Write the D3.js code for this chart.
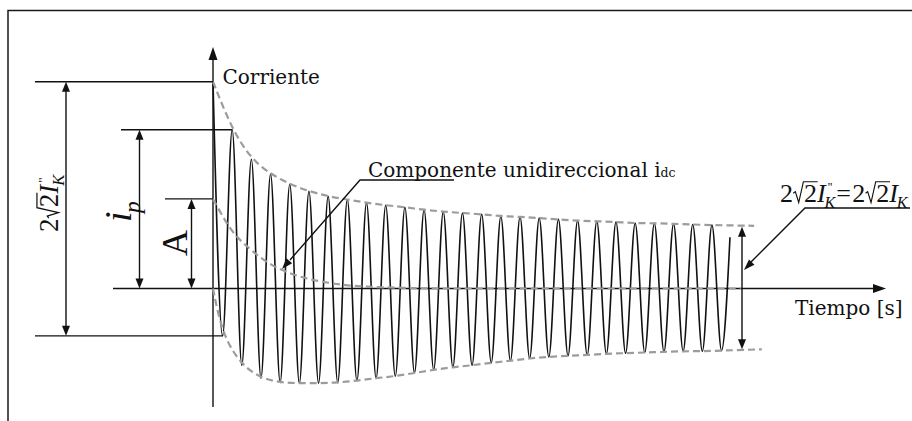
<!DOCTYPE html>
<html>
<head>
<meta charset="utf-8">
<script src="https://cdn.jsdelivr.net/npm/d3@7"></script>
<style>
  html, body { margin: 0; padding: 0; background: #fff; }
  svg { display: block; }
  .txt { font-family: "DejaVu Serif", serif; fill: #111; }
  .math { font-family: "Liberation Serif", "Times New Roman", serif; fill: #111; }
</style>
</head>
<body>
<div id="chart"></div>
<script>
// Short-circuit current far from generator: asymmetric decaying waveform,
// its envelopes and the unidirectional (DC) component.

// Time in cycles of the fundamental, current in multiples of the steady-state peak.
const peakTimes = d3.range(27);                 // crest k at t = k
const peakValues = [3.23, 2.48, 2.02, 1.79, 1.63, 1.52, 1.44, 1.39, 1.34, 1.30,
                    1.27, 1.23, 1.20, 1.18, 1.16, 1.13, 1.12, 1.10, 1.08, 1.06,
                    1.05, 1.04, 1.02, 1.02, 1.01, 1.00, 0.99];
const troughValues = [-0.74, -1.20, -1.40, -1.47, -1.48, -1.48, -1.47, -1.44, -1.40, -1.37,
                      -1.32, -1.27, -1.23, -1.20, -1.16, -1.13, -1.09, -1.07, -1.05, -1.04,
                      -1.02, -1.01, -1.00, -0.99, -0.98, -0.98, -0.97];   // trough k at t = k + 0.5
const waveEnd = { t: 26.94, v: 0.80 };

const upperEnvTail = { t: 28.2, v: 0.98 };
const lowerEnvHead = { t: 0, v: 0 };
const lowerEnvTail = { t: 28.6, v: -0.95 };

const dcTimes  = [0, 1, 2, 3, 4, 5, 6, 7, 8, 10, 12, 27.5];
const dcValues = [1.40, 0.90, 0.60, 0.38, 0.24, 0.15, 0.09, 0.05, 0.03, 0.01, 0, 0];

const labelCurrent = "Corriente";
const labelTime = "Tiempo [s]";
const labelDC = "Componente unidireccional i";
const labelDCSub = "dc";

const W = 912, H = 421;
const svg = d3.select("#chart").append("svg").attr("width", W).attr("height", H);

const x = d3.scaleLinear().domain([0, 27]).range([213, 213 + 27 * 19.19]);
const y = d3.scaleLinear().domain([0, 1]).range([288.5, 224.5]);

const ink = "#111";
const dashGrey = "#9c9c9c";

// outer frame
svg.append("rect").attr("x", 8).attr("y", 10.5).attr("width", W).attr("height", H)
  .attr("fill", "none").attr("stroke", "#1a1a1a").attr("stroke-width", 1.5);

function arrowHead(tx, ty, ang, len = 10, half = 3.6) {
  const c = Math.cos(ang), s = Math.sin(ang);
  const bx = tx - c * len, by = ty - s * len;
  const pts = [[tx, ty], [bx - s * half, by + c * half], [bx + s * half, by - c * half]];
  svg.append("path").attr("d", "M" + pts.map(p => p.join(",")).join("L") + "Z").attr("fill", ink);
}
function seg(x1, y1, x2, y2, w = 1.4) {
  svg.append("line").attr("x1", x1).attr("y1", y1).attr("x2", x2).attr("y2", y2)
    .attr("stroke", ink).attr("stroke-width", w);
}
function dimArrow(xp, yA, yB) {
  seg(xp, yA + 8, xp, yB - 8);
  arrowHead(xp, yA, -Math.PI / 2, 10, 4);
  arrowHead(xp, yB, Math.PI / 2, 10, 4);
}

// axes
const y0 = y(0), x0 = x(0);
seg(113, y0, 875, y0);
arrowHead(886, y0, 0, 13, 4.5);
seg(x0, 407, x0, 58);
arrowHead(x0, 47, -Math.PI / 2, 13, 4.5);

// waveform through crests and troughs
const wavePts = [];
peakTimes.forEach((t, i) => {
  wavePts.push([t, peakValues[i]]);
  wavePts.push([t + 0.5, troughValues[i]]);
});
wavePts.push([waveEnd.t, waveEnd.v]);
const line = d3.line().x(d => x(d[0])).y(d => y(d[1])).curve(d3.curveMonotoneX);
svg.append("path").attr("d", line(wavePts)).attr("fill", "none")
  .attr("stroke", ink).attr("stroke-width", 1.6).attr("stroke-linejoin", "round");

// envelopes and DC component
const upperPts = peakTimes.map((t, i) => [t, peakValues[i]]).concat([[upperEnvTail.t, upperEnvTail.v]]);
const lowerPts = [[lowerEnvHead.t, lowerEnvHead.v]]
  .concat(peakTimes.map((t, i) => [t + 0.5, troughValues[i]]))
  .concat([[lowerEnvTail.t, lowerEnvTail.v]]);
const dcPts = dcTimes.map((t, i) => [t, dcValues[i]]);
const envLine = d3.line().x(d => x(d[0])).y(d => y(d[1])).curve(d3.curveBasis);
[upperPts, lowerPts, dcPts].forEach(pts => {
  svg.append("path").attr("d", (pts === dcPts ? line : envLine)(pts)).attr("fill", "none")
    .attr("stroke", dashGrey).attr("stroke-width", 2.2).attr("stroke-dasharray", "7,4");
});

// reference levels and dimension arrows
const yPeak0 = y(peakValues[0]), yTr0 = y(troughValues[0]);
const yIp = y(peakValues[1]), yA = y(dcValues[0]);
seg(35, yPeak0, x0, yPeak0);
seg(35, yTr0, x(0.5), yTr0);
seg(121, yIp, x(1), yIp);
seg(165, yA, x0, yA);
dimArrow(66, yPeak0, yTr0);
dimArrow(139.5, yIp, y0);
dimArrow(191.5, yA, y0);
dimArrow(742, y(upperEnvTail.v) + 1, y(lowerEnvTail.v));

// leader for the DC label
svg.append("path").attr("d", "M454,180H360L290,260").attr("fill", "none")
  .attr("stroke", ink).attr("stroke-width", 1.4);
arrowHead(282, 269, Math.atan2(269 - 180, 282 - 360), 11, 3.8);
// leader for the steady-state label
svg.append("path").attr("d", "M910,208H805L751,262").attr("fill", "none")
  .attr("stroke", ink).attr("stroke-width", 1.4);
arrowHead(744, 270, Math.atan2(270 - 208, 744 - 805), 11, 3.8);

// plain text labels
svg.append("text").attr("class", "txt").attr("x", 222.5).attr("y", 83.5)
  .style("font-size", "20px").text(labelCurrent);
svg.append("text").attr("class", "txt").attr("x", 795).attr("y", 315)
  .style("font-size", "20px").text(labelTime);
const tdc = svg.append("text").attr("class", "txt").attr("x", 368).attr("y", 177)
  .style("font-size", "20px").text(labelDC);
tdc.append("tspan").style("font-size", "12.5px").text(labelDCSub);

// small math typesetter: items laid out left to right on a baseline
function mathLabel(g, items, fs) {
  let cx = 0;
  const put = (s, size, italic, dx, dy) => {
    const t = g.append("text").attr("class", "math").attr("x", cx + dx).attr("y", dy)
      .style("font-size", size + "px").style("font-style", italic ? "italic" : "normal").text(s);
    return t.node().getComputedTextLength();
  };
  items.forEach(it => {
    if (it.sqrt) {
      const r0 = cx;
      const wRad = 0.42 * fs;
      cx += wRad;
      const w = put(it.sqrt, fs, false, 0, 0);
      const top = -0.78 * fs;
      g.append("path")
        .attr("d", `M${r0 + 0.01 * fs},${-0.34 * fs}L${r0 + 0.09 * fs},${-0.40 * fs}L${r0 + 0.22 * fs},${0.02 * fs}` +
                   `L${r0 + 0.40 * fs},${top}H${cx + w + 0.03 * fs}`)
        .attr("fill", "none").attr("stroke", ink).attr("stroke-width", 0.045 * fs)
        .attr("stroke-linejoin", "miter");
      cx += w;
    } else if (it.supsub) {
      let w1 = 0, w2 = 0;
      if (it.sup) w1 = put(it.sup, fs * 0.5, false, 0.08 * fs, -0.42 * fs);
      if (it.sub) w2 = put(it.sub, fs * 0.62, true, -0.04 * fs, 0.24 * fs);
      cx += Math.max(w1, w2);
    } else {
      cx += put(it.s, it.size ? it.size * fs : fs, !!it.it, 0, 0) + (it.gap || 0) * fs;
    }
  });
  return cx;
}

// 2√2 I''_K = 2√2 I_K
const gR = svg.append("g").attr("transform", "translate(780,202)");
mathLabel(gR, [
  { s: "2" }, { sqrt: "2" }, { s: "I", it: true }, { supsub: true, sup: "''", sub: "K" },
  { s: "=", gap: 0.05 }, { s: "2" }, { sqrt: "2" }, { s: "I", it: true }, { supsub: true, sub: "K" }
], 26);

// left vertical labels
const gL = svg.append("g").attr("transform", "translate(58,232) rotate(-90)");
mathLabel(gL, [{ s: "2" }, { sqrt: "2" }, { s: "I", it: true }, { supsub: true, sup: "''", sub: "K" }], 27);

const gI = svg.append("g").attr("transform", "translate(131,222) rotate(-90)");
mathLabel(gI, [{ s: "i", it: true }, { supsub: true, sub: "p" }], 38);

const gA = svg.append("g").attr("transform", "translate(187,256) rotate(-90)");
mathLabel(gA, [{ s: "A" }], 36);
</script>
</body>
</html>
